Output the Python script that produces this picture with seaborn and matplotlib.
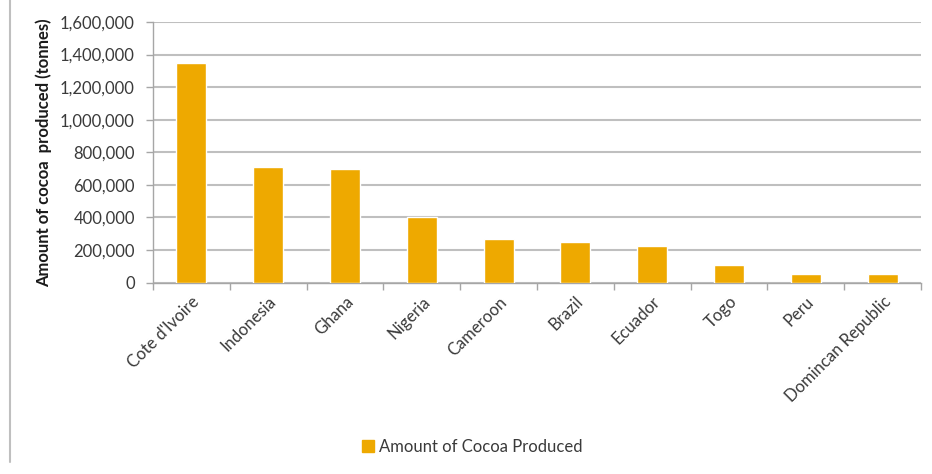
import matplotlib
matplotlib.use("Agg")
import matplotlib.pyplot as plt
import seaborn as sns
import pandas as pd
from matplotlib.lines import Line2D
from matplotlib.patches import Patch
from matplotlib.ticker import FuncFormatter, FixedLocator
import numpy as np

countries = ["Cote d'Ivoire", "Indonesia", "Ghana", "Nigeria", "Cameroon",
             "Brazil", "Ecuador", "Togo", "Peru", "Domincan Republic"]
production = [1350000, 712000, 696000, 400000, 270000, 250000, 226000, 105000, 53000, 53000]
y_ticks = [0, 200000, 400000, 600000, 800000, 1000000, 1200000, 1400000, 1600000]
series_name = "Amount of Cocoa Produced"

sns.set_theme(style="white")
plt.rcParams['font.family'] = ['Lato', 'DejaVu Sans']

bar_color = "#EEA900"
text_color = "#3a3a3a"
grid_color = "#BFBFBF"

df = pd.DataFrame({"country": countries, "value": production})

fig = plt.figure(figsize=(9.32, 4.74), dpi=100)
ax = fig.add_axes([153/932, 1-282.5/474, 768/932, (282.5-22)/474])

sns.barplot(data=df, x="country", y="value", color=bar_color, width=0.39,
            saturation=1, ax=ax, zorder=3)

ax.set_xlim(-0.5, len(countries) - 0.5)
ax.set_ylim(0, 1600000)
ax.set_yticks(y_ticks)
ax.yaxis.set_major_formatter(FuncFormatter(lambda v, p: f"{int(v):,}"))
ax.yaxis.grid(True, color=grid_color, linewidth=1.5, zorder=0)
ax.set_axisbelow(True)

for s in ["top", "right"]:
    ax.spines[s].set_visible(False)
for s in ["left", "bottom"]:
    ax.spines[s].set_color("#A6A6A6")
    ax.spines[s].set_linewidth(1.0)

ax.tick_params(axis="y", which="major", length=5, width=1, color="#A6A6A6",
               direction="out", labelsize=12, labelcolor=text_color, pad=8, left=True)
ax.set_xticks(range(len(countries)))
ax.set_xticklabels(countries, rotation=45, ha="right", rotation_mode="anchor")
ax.tick_params(axis="x", which="major", length=0, labelsize=12, labelcolor=text_color, pad=8)
ax.xaxis.set_minor_locator(FixedLocator(np.arange(-0.5, len(countries) + 0.5, 1)))
ax.tick_params(axis="x", which="minor", length=5, width=1, color="#A6A6A6",
               direction="out", bottom=True)

ax.set_xlabel("")
ax.set_ylabel("Amount of cocoa  produced (tonnes)", fontsize=12, fontweight="bold",
              color="#1a1a1a", labelpad=6)

handles = [Patch(facecolor=bar_color, edgecolor=bar_color)]
fig.legend(handles, [series_name], loc="center", bbox_to_anchor=(472/932, 1-447/474),
           frameon=False, fontsize=12, handlelength=0.7, handleheight=0.7,
           handletextpad=0.3, labelcolor=text_color)

fig.add_artist(Line2D([10/932, 10/932], [1-462/474, 1.0], transform=fig.transFigure,
                      color="#BFBFBF", linewidth=1.5))

fig.savefig("out.png", dpi=100)
